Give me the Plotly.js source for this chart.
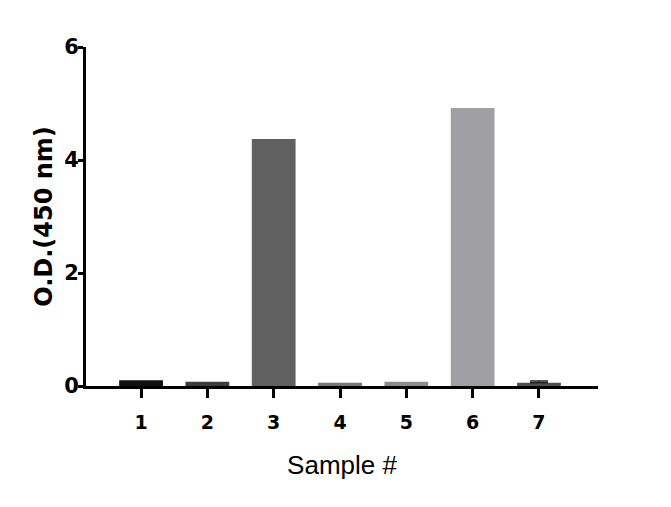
<!DOCTYPE html>
<html>
<head>
<meta charset="utf-8">
<script src="https://cdn.plot.ly/plotly-3.0.1.min.js"></script>
<style>
  html, body { margin: 0; padding: 0; background: #fff; }
  #chart { width: 671px; height: 507px; }
</style>
</head>
<body>
<div id="chart"></div>
<script>
// sample numbers and optical density readings
const samples = [1, 2, 3, 4, 5, 6, 7];
const odValues = [0.10, 0.075, 4.37, 0.056, 0.075, 4.92, 0.056];
const barColors = ["#111111", "#3c3c3c", "#606060", "#777777", "#8c8c8c", "#a0a0a4", "#505050"];

// only sample 7 shows an error bar
const errSample = [7];
const errMean = [0.056];
const errUp = [0.034];

const boldFont = "DejaVu Sans, Liberation Sans, Arial, sans-serif";

let bars = {
  type: "bar",
  x: samples,
  y: odValues,
  width: 0.66,
  marker: { color: barColors, line: { width: 0 } },
  hoverinfo: "x+y",
};

let errTrace = {
  type: "scatter",
  mode: "markers",
  x: errSample,
  y: errMean,
  marker: { size: 1, opacity: 0 },
  error_y: {
    type: "data",
    symmetric: false,
    array: errUp,
    arrayminus: [0],
    color: "#222222",
    thickness: 1.5,
    width: 9,
  },
  hoverinfo: "skip",
};

let layout = {
  width: 671,
  height: 507,
  margin: { l: 86, r: 73, t: 47, b: 121 },
  paper_bgcolor: "#ffffff",
  plot_bgcolor: "#ffffff",
  showlegend: false,
  font: { family: "Liberation Sans, Arial, sans-serif", color: "#000" },
  xaxis: {
    range: [0.17, 7.89],
    tickvals: samples,
    ticktext: samples.map(String),
    showline: true,
    linewidth: 3,
    linecolor: "#000",
    ticks: "outside",
    ticklen: 9,
    tickwidth: 3,
    tickcolor: "#000",
    ticklabelstandoff: 8,
    showgrid: false,
    zeroline: false,
    tickfont: { size: 19, family: boldFont, weight: "bold" },
    title: {
      text: "Sample #",
      font: { size: 26, family: "Liberation Sans, Arial, sans-serif" },
      standoff: 25,
    },
  },
  yaxis: {
    range: [0, 6],
    tickvals: [0, 2, 4, 6],
    showline: true,
    linewidth: 3,
    linecolor: "#000",
    ticks: "outside",
    ticklen: 5,
    tickwidth: 3,
    tickcolor: "#000",
    ticklabelstandoff: -5,
    showgrid: false,
    zeroline: false,
    tickfont: { size: 21, family: boldFont, weight: "bold" },
    title: {
      text: "O.D.(450 nm)",
      font: { size: 24, family: boldFont, weight: "bold" },
      standoff: 5,
    },
  },
};

Plotly.newPlot("chart", [bars, errTrace], layout, { displayModeBar: false, staticPlot: true });
</script>
</body>
</html>
